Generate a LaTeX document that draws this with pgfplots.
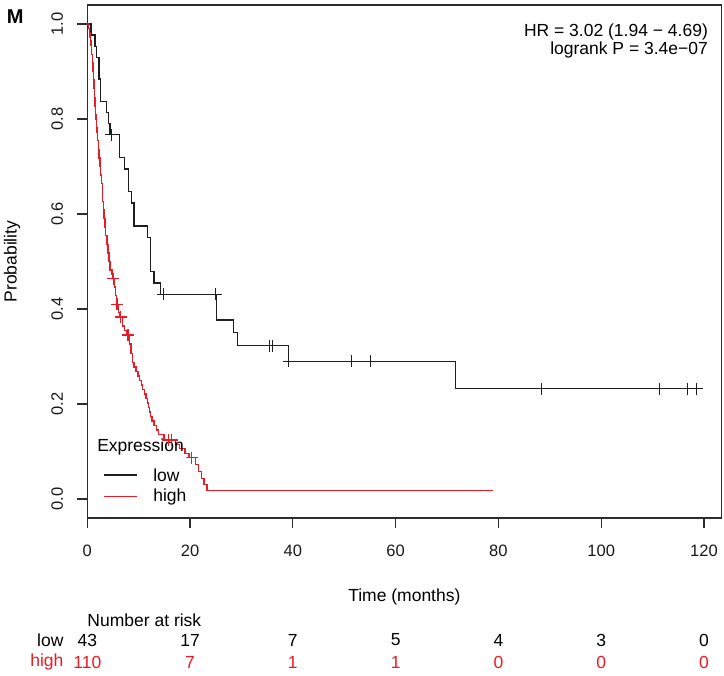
\documentclass[border=0pt]{standalone}
\usepackage{fontspec}
\setmainfont{Liberation Sans}
\usepackage{pgfplots}
\pgfplotsset{compat=1.18}
\definecolor{kmred}{RGB}{232,28,36}
\definecolor{kmblack}{RGB}{30,30,30}
\definecolor{axgray}{RGB}{45,45,45}
\newcommand{\fs}{\fontsize{17.5}{21}\selectfont}
\begin{document}
\begin{tikzpicture}
\useasboundingbox (0pt,0pt) rectangle (724pt,-676pt);
\begin{axis}[
  at={(87.3pt,-518pt)}, anchor=south west,
  scale only axis, width=634.4pt, height=513pt,
  xmin=0, xmax=123.45, ymin=-0.04, ymax=1.04,
  clip=false,
  axis line style={axgray, line width=1.2pt},
  xtick={0,20,...,120}, ytick={0,0.2,0.4,0.6,0.8,1.0},
  yticklabels={0.0,0.2,0.4,0.6,0.8,1.0},
  xtick pos=bottom, ytick pos=left, tick align=outside,
  major tick length=10pt,
  tick style={axgray, line width=1.2pt},
  /pgf/number format/assume math mode=true,
  tick label style={font=\fontsize{16.5}{19}\selectfont, text=black!90},
  xticklabel shift=13.5pt,
  yticklabel shift=10.8pt,
  yticklabel style={rotate=90, anchor=south},
]
% low expression (black)
\addplot[const plot, kmblack, line width=1.35pt] coordinates {
(0,1) (0.7,0.977) (1.5,0.953) (1.8,0.930) (2.3,0.884) (2.6,0.837) (3.7,0.814) (4.1,0.791) (4.4,0.767)
(6.3,0.719) (7.2,0.695) (8.0,0.647) (8.6,0.623) (9.1,0.575) (11.7,0.551) (12.3,0.479) (13.0,0.455) (14.3,0.431)
(25.2,0.377) (28.5,0.350) (29.2,0.323) (39.2,0.290) (71.7,0.232) (118.6,0.232)
};
\addplot[only marks, mark=+, mark size=6pt, kmblack, line width=1.3pt] coordinates {
(4.7,0.767) (14.8,0.431) (25.0,0.431) (35.5,0.323) (36.0,0.323) (39.2,0.290) (51.4,0.290) (55.1,0.290)
(88.4,0.232) (111.4,0.232) (116.8,0.232) (118.6,0.232)
};
% high expression (red)
\addplot[const plot, kmred, line width=1.35pt] coordinates {
(0,1) (0.25,0.991) (0.4,0.982) (0.5,0.973) (0.6,0.964) (0.7,0.955) (0.8,0.945) (0.85,0.936) (0.95,0.927)
(1.0,0.918) (1.1,0.9) (1.2,0.882) (1.3,0.864) (1.4,0.845) (1.5,0.827) (1.6,0.809) (1.7,0.8) (1.8,0.782)
(1.9,0.773) (2.0,0.755) (2.15,0.736) (2.3,0.718) (2.45,0.7) (2.6,0.682) (2.75,0.664) (2.9,0.645) (3.0,0.627)
(3.1,0.609) (3.25,0.591) (3.45,0.573) (3.6,0.555) (3.8,0.536) (4.0,0.518) (4.2,0.5) (4.45,0.482) (4.8,0.473)
(5.0,0.464) (5.3,0.446) (5.5,0.428) (5.7,0.41) (6.1,0.392) (6.3,0.383) (6.8,0.364) (7.3,0.355) (7.7,0.345)
(8.2,0.326) (8.5,0.307) (8.8,0.288) (9.1,0.278) (9.5,0.269) (9.9,0.259) (10.2,0.25) (10.5,0.24) (10.8,0.231)
(11.1,0.221) (11.4,0.212) (11.7,0.202) (11.9,0.193) (12.1,0.183) (12.3,0.174) (12.6,0.164) (13.0,0.155)
(13.5,0.145) (13.9,0.136) (14.9,0.124) (17.2,0.115) (18.0,0.106) (19.0,0.096) (19.8,0.087) (21.0,0.072)
(21.6,0.058) (22.2,0.043) (22.7,0.03) (23.3,0.018) (79,0.018)
};
\addplot[only marks, mark=+, mark size=6pt, kmred, line width=1.3pt] coordinates {
(5.06,0.464) (5.8,0.41) (6.5,0.383) (7.9,0.345) (15.8,0.124) (16.4,0.124) (20.3,0.087)
};
% annotations
\node[anchor=east, inner sep=0pt, font=\fs] at (axis cs:120.8,0.984) {HR = 3.02 (1.94 − 4.69)};
\node[anchor=east, inner sep=0pt, font=\fs] at (axis cs:120.8,0.945) {logrank P = 3.4e−07};
% legend
\node[anchor=west, inner sep=0pt, font=\fs] at (axis cs:1.9,0.110) {Expression};
\draw[kmblack, line width=1.2pt] (axis cs:3.2,0.0505) -- (axis cs:9.67,0.0505);
\node[anchor=west, inner sep=0pt, font=\fs] at (axis cs:12.8,0.0505) {low};
\draw[kmred, line width=1.2pt] (axis cs:3.2,0.005) -- (axis cs:9.67,0.005);
\node[anchor=west, inner sep=0pt, font=\fs] at (axis cs:12.8,0.005) {high};
% labels
\node[inner sep=0pt, font=\fs] at (axis cs:61.7,-0.2063) {Time (months)};
\node[rotate=90, inner sep=0pt, font=\fs] at (axis cs:-14.65,0.5) {Probability};
\node[inner sep=0pt, font=\fontsize{20}{24}\selectfont\bfseries] at (axis cs:-14.05,1.0147) {M};
% number at risk
\node[anchor=west, inner sep=0pt, font=\fs] at (axis cs:0,-0.2547) {Number at risk};
\node[anchor=east, inner sep=0pt, font=\fs] at (axis cs:-4.6,-0.2968) {low};
\node[anchor=east, inner sep=0pt, font=\fs, text=kmred] at (axis cs:-4.6,-0.3432) {high};
\node[inner sep=0pt, font=\fs] at (axis cs:0,-0.2968) {43};
\node[inner sep=0pt, font=\fs] at (axis cs:20,-0.2968) {17};
\node[inner sep=0pt, font=\fs] at (axis cs:40,-0.2968) {7};
\node[inner sep=0pt, font=\fs] at (axis cs:60,-0.2968) {5};
\node[inner sep=0pt, font=\fs] at (axis cs:80,-0.2968) {4};
\node[inner sep=0pt, font=\fs] at (axis cs:100,-0.2968) {3};
\node[inner sep=0pt, font=\fs] at (axis cs:120,-0.2968) {0};
\node[inner sep=0pt, font=\fs, text=kmred] at (axis cs:0,-0.3432) {110};
\node[inner sep=0pt, font=\fs, text=kmred] at (axis cs:20,-0.3432) {7};
\node[inner sep=0pt, font=\fs, text=kmred] at (axis cs:40,-0.3432) {1};
\node[inner sep=0pt, font=\fs, text=kmred] at (axis cs:60,-0.3432) {1};
\node[inner sep=0pt, font=\fs, text=kmred] at (axis cs:80,-0.3432) {0};
\node[inner sep=0pt, font=\fs, text=kmred] at (axis cs:100,-0.3432) {0};
\node[inner sep=0pt, font=\fs, text=kmred] at (axis cs:120,-0.3432) {0};
\end{axis}
\end{tikzpicture}
\end{document}
